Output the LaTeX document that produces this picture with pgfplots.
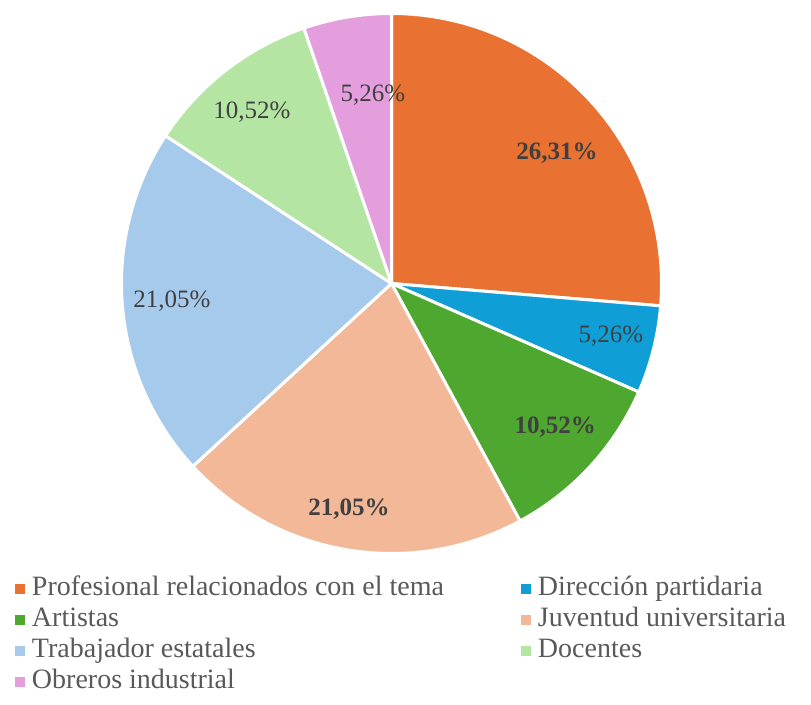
\documentclass[border=0pt]{standalone}
\usepackage{fontspec}
\setmainfont{Liberation Serif}
\usepackage{pgfplots}
\pgfplotsset{compat=1.18}
\definecolor{cA}{HTML}{E97132}
\definecolor{cB}{HTML}{0F9ED5}
\definecolor{cC}{HTML}{4EA72E}
\definecolor{cD}{HTML}{F2B897}
\definecolor{cE}{HTML}{A6CAEC}
\definecolor{cF}{HTML}{B4E5A2}
\definecolor{cG}{HTML}{E59EDD}
\definecolor{lbl}{HTML}{404040}
\definecolor{leg}{HTML}{595959}
% data (percent)
\def\vA{26.31}\def\vB{5.26}\def\vC{10.52}\def\vD{21.05}\def\vE{21.05}\def\vF{10.52}\def\vG{5.26}
\pgfmathsetmacro\tot{\vA+\vB+\vC+\vD+\vE+\vF+\vG}
\pgfmathsetmacro\sA{90}
\pgfmathsetmacro\eA{\sA-360*\vA/\tot}
\pgfmathsetmacro\eB{\eA-360*\vB/\tot}
\pgfmathsetmacro\eC{\eB-360*\vC/\tot}
\pgfmathsetmacro\eD{\eC-360*\vD/\tot}
\pgfmathsetmacro\eE{\eD-360*\vE/\tot}
\pgfmathsetmacro\eF{\eE-360*\vF/\tot}
\pgfmathsetmacro\eG{\eF-360*\vG/\tot}
\begin{document}
\begin{tikzpicture}
\begin{axis}[
  x=270pt, y=270pt,
  xmin=-1.45, xmax=1.5537, ymin=-1.5574, ymax=1.05,
  hide axis, clip=false,
  legend columns=2,
  legend cell align=left,
  legend style={at={(0.0185,0.186)}, anchor=north west, draw=none, fill=none,
    inner sep=0pt, outer sep=0pt, row sep=0pt, column sep=0pt,
    font=\fontsize{28}{31}\selectfont, text=leg,
    nodes={inner xsep=7pt, inner ysep=2pt, text height=20pt, text depth=7pt}},
  legend image code/.code={\path[#1,draw=none] (0pt,-5pt) rectangle (10pt,5pt);},
  every axis plot/.append style={draw=white, line width=3pt, line join=round},
]
\path (rel axis cs:0,0) rectangle (rel axis cs:1,1);
\addplot[fill=cA, domain=\eA:\sA, samples=100] ({cos(x)},{sin(x)}) -- (axis cs:0,0) -- cycle;
\addlegendentry{\makebox[482pt][l]{Profesional relacionados con el tema}}
\addplot[fill=cB, domain=\eB:\eA, samples=30] ({cos(x)},{sin(x)}) -- (axis cs:0,0) -- cycle;
\addlegendentry{Dirección partidaria}
\addplot[fill=cC, domain=\eC:\eB, samples=50] ({cos(x)},{sin(x)}) -- (axis cs:0,0) -- cycle;
\addlegendentry{\makebox[482pt][l]{Artistas}}
\addplot[fill=cD, domain=\eD:\eC, samples=90] ({cos(x)},{sin(x)}) -- (axis cs:0,0) -- cycle;
\addlegendentry{Juventud universitaria}
\addplot[fill=cE, domain=\eE:\eD, samples=90] ({cos(x)},{sin(x)}) -- (axis cs:0,0) -- cycle;
\addlegendentry{\makebox[482pt][l]{Trabajador estatales}}
\addplot[fill=cF, domain=\eF:\eE, samples=50] ({cos(x)},{sin(x)}) -- (axis cs:0,0) -- cycle;
\addlegendentry{Docentes}
\addplot[fill=cG, domain=\eG:\eF, samples=30] ({cos(x)},{sin(x)}) -- (axis cs:0,0) -- cycle;
\addlegendentry{\makebox[482pt][l]{Obreros industrial}}
\begin{scope}[every node/.style={font=\fontsize{25}{28}\selectfont, text=lbl}]
\node at (axis cs:0.613,0.483) {\textbf{26,31\%}};
\node at (axis cs:0.813,-0.194) {5,26\%};
\node at (axis cs:0.606,-0.531) {\textbf{10,52\%}};
\node at (axis cs:-0.157,-0.835) {\textbf{21,05\%}};
\node at (axis cs:-0.813,-0.065) {21,05\%};
\node at (axis cs:-0.517,0.635) {10,52\%};
\node at (axis cs:-0.069,0.698) {5,26\%};
\end{scope}
\end{axis}
\end{tikzpicture}
\end{document}
